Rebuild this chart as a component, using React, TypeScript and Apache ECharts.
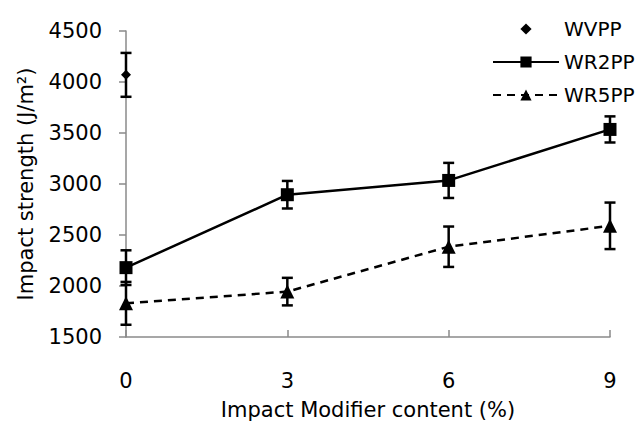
import React, { useEffect, useRef } from "react";
import * as echarts from "echarts";

const xValues = [0, 3, 6, 9];
const wvppX = [0];
const wvppMean = [4070];
const wvppErr = [215];
const wr2ppMean = [2180, 2895, 3035, 3535];
const wr2ppErr = [170, 135, 172, 128];
const wr5ppMean = [1830, 1945, 2385, 2590];
const wr5ppErr = [210, 135, 198, 228];
const seriesNames = ["WVPP", "WR2PP", "WR5PP"];

const FONT = "DejaVu Sans";

function errData(xs: number[], mean: number[], err: number[]) {
  return xs.map((x, i) => [x, mean[i] - err[i], mean[i] + err[i]]);
}

function errRender(params: any, api: any) {
  const x = api.value(0);
  const lo = api.coord([x, api.value(1)]);
  const hi = api.coord([x, api.value(2)]);
  const hw = 5.5;
  const style = { stroke: "#000", lineWidth: 2.5 };
  return {
    type: "group",
    children: [
      { type: "line", shape: { x1: lo[0], y1: lo[1], x2: hi[0], y2: hi[1] }, style },
      { type: "line", shape: { x1: lo[0] - hw, y1: lo[1], x2: lo[0] + hw, y2: lo[1] }, style },
      { type: "line", shape: { x1: hi[0] - hw, y1: hi[1], x2: hi[0] + hw, y2: hi[1] }, style },
    ],
  };
}

export default function App() {
  const ref = useRef<HTMLDivElement>(null);
  useEffect(() => {
    const chart = echarts.init(ref.current!, null, { renderer: "svg" });
    chart.setOption({
      animation: false,
      backgroundColor: "#fff",
      grid: { left: 126, right: 29, top: 31, bottom: 81, containLabel: false },
      legend: {
        orient: "vertical",
        left: 487,
        top: 14,
        itemWidth: 66,
        itemHeight: 14,
        itemGap: 13,
        data: seriesNames,
        textStyle: { fontFamily: FONT, fontSize: 20, color: "#000" },
      },
      xAxis: {
        type: "value",
        min: 0,
        max: 9,
        interval: 3,
        name: "Impact Modifier content (%)",
        nameLocation: "middle",
        nameGap: 62,
        nameTextStyle: { fontFamily: FONT, fontSize: 21, color: "#000" },
        axisLine: { lineStyle: { color: "#8a8a8a", width: 1.5 } },
        axisTick: { inside: true, length: 7, lineStyle: { color: "#8a8a8a", width: 1.5 } },
        axisLabel: { fontFamily: FONT, fontSize: 21, color: "#000", margin: 33 },
        splitLine: { show: false },
      },
      yAxis: {
        type: "value",
        min: 1500,
        max: 4500,
        interval: 500,
        name: "Impact strength (J/m²)",
        nameLocation: "middle",
        nameGap: 90,
        nameTextStyle: { fontFamily: FONT, fontSize: 21, color: "#000" },
        axisLine: { show: true, lineStyle: { color: "#8a8a8a", width: 1.5 } },
        axisTick: { show: true, length: 7, lineStyle: { color: "#8a8a8a", width: 1.5 } },
        axisLabel: { fontFamily: FONT, fontSize: 21, color: "#000", margin: 24, formatter: (v: number) => String(v) },
        splitLine: { show: false },
      },
      series: [
        {
          name: "WVPP",
          type: "line",
          data: wvppX.map((x, i) => [x, wvppMean[i]]),
          symbol: "diamond",
          symbolSize: 10,
          lineStyle: { width: 0, opacity: 0 },
          itemStyle: { color: "#000" },
          z: 3,
        },
        {
          name: "WR2PP",
          type: "line",
          data: xValues.map((x, i) => [x, wr2ppMean[i]]),
          symbol: "rect",
          symbolSize: 13,
          lineStyle: { width: 2.5, color: "#000" },
          itemStyle: { color: "#000" },
          z: 3,
        },
        {
          name: "WR5PP",
          type: "line",
          data: xValues.map((x, i) => [x, wr5ppMean[i]]),
          symbol: "triangle",
          symbolSize: 14,
          lineStyle: { width: 2.5, color: "#000", type: [8, 6] },
          itemStyle: { color: "#000" },
          z: 3,
        },
        {
          type: "custom",
          renderItem: errRender,
          data: errData(wvppX, wvppMean, wvppErr),
          z: 4,
          silent: true,
        },
        {
          type: "custom",
          renderItem: errRender,
          data: errData(xValues, wr2ppMean, wr2ppErr),
          z: 4,
          silent: true,
        },
        {
          type: "custom",
          renderItem: errRender,
          data: errData(xValues, wr5ppMean, wr5ppErr),
          z: 4,
          silent: true,
        },
      ],
    });
    return () => chart.dispose();
  }, []);
  return <div ref={ref} style={{ width: 639, height: 425, position: "absolute", left: 0, top: 0 }} />;
}
